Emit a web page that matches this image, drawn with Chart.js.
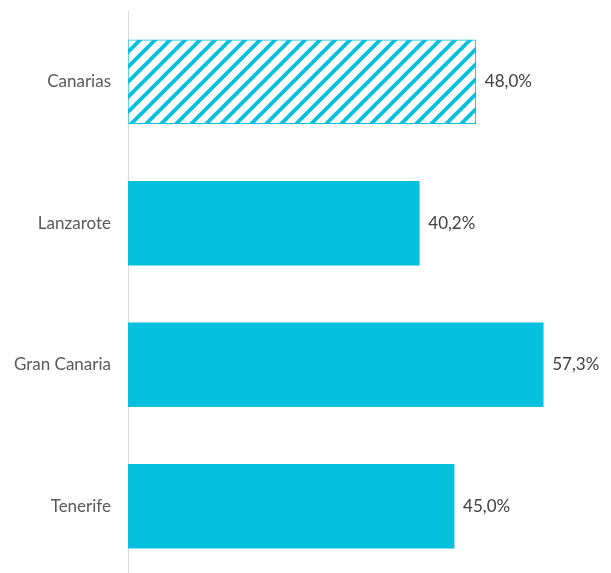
<!DOCTYPE html>
<html>
<head>
<meta charset="utf-8">
<script src="https://cdn.jsdelivr.net/npm/chart.js@4/dist/chart.umd.min.js"></script>
<style>
  html, body { margin: 0; padding: 0; background: #ffffff; overflow: hidden; }
  #c { display: block; }
</style>
</head>
<body>
<canvas id="c" width="611" height="578"></canvas>
<script>
const categories = ["Canarias", "Lanzarote", "Gran Canaria", "Tenerife"];
const values = [48.0, 40.2, 57.3, 45.0];
const valueLabels = ["48,0%", "40,2%", "57,3%", "45,0%"];
const hatched = [true, false, false, false];

const CYAN = "#05c1de";
const FONT = "Lato, 'Open Sans', sans-serif";

function makePattern() {
  const s = 15;
  const p = document.createElement("canvas");
  p.width = s; p.height = s;
  const g = p.getContext("2d");
  g.fillStyle = "#ffffff";
  g.fillRect(0, 0, s, s);
  g.strokeStyle = CYAN;
  g.lineWidth = 3.8;
  g.beginPath();
  for (let k = -1; k <= 1; k++) {
    g.moveTo(k * s - 2, s + 2);
    g.lineTo(k * s + s + 2, -2);
  }
  g.stroke();
  return document.getElementById("c").getContext("2d").createPattern(p, "repeat");
}
const pattern = makePattern();

const labelPlugin = {
  id: "valueLabels",
  afterDatasetsDraw(chart) {
    const ctx = chart.ctx;
    const meta = chart.getDatasetMeta(0);
    ctx.save();
    ctx.font = "17px " + FONT;
    ctx.fillStyle = "#404040";
    ctx.textAlign = "left";
    ctx.textBaseline = "middle";
    meta.data.forEach((bar, i) => {
      ctx.fillText(valueLabels[i], bar.x + 9, bar.y);
    });
    ctx.restore();
  }
};

new Chart(document.getElementById("c"), {
  type: "bar",
  data: {
    labels: categories,
    datasets: [{
      data: values,
      backgroundColor: hatched.map(h => h ? pattern : CYAN),
      borderColor: CYAN,
      borderWidth: hatched.map(h => h ? 1 : 0),
      borderSkipped: false,
      barThickness: 84
    }]
  },
  options: {
    indexAxis: "y",
    responsive: false,
    animation: false,
    devicePixelRatio: 1,
    layout: { padding: { top: 11, bottom: 1, left: 0, right: 12 } },
    plugins: { legend: { display: false }, tooltip: { enabled: false } },
    scales: {
      x: { display: false, min: 0, max: 65 },
      y: {
        afterFit(scale) { scale.width = 128; scale.paddingTop = 0; scale.paddingBottom = 0; },
        grid: { display: false, drawTicks: false },
        border: { display: true, color: "#d9d9d9", width: 1 },
        ticks: {
          padding: 17,
          color: "#595959",
          font: { family: FONT, size: 17 }
        }
      }
    }
  },
  plugins: [labelPlugin]
});
</script>
</body>
</html>
